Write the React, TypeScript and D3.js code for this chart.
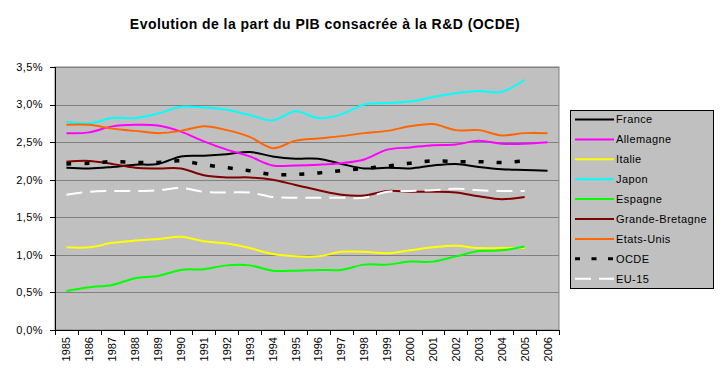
import React from 'react';
import * as d3 from 'd3';

const years = ['1985','1986','1987','1988','1989','1990','1991','1992','1993','1994','1995','1996','1997','1998','1999','2000','2001','2002','2003','2004','2005','2006'];

const france = [2.16,2.15,2.17,2.20,2.21,2.31,2.32,2.34,2.37,2.31,2.28,2.28,2.21,2.15,2.16,2.15,2.19,2.21,2.17,2.14,2.13,2.12];
const allemagne = [2.62,2.63,2.71,2.73,2.72,2.64,2.51,2.40,2.31,2.19,2.19,2.20,2.22,2.27,2.40,2.43,2.46,2.47,2.52,2.48,2.48,2.50];
const italie = [1.10,1.10,1.16,1.19,1.21,1.24,1.18,1.15,1.09,1.01,0.98,0.98,1.04,1.04,1.02,1.06,1.10,1.12,1.09,1.09,1.09,null];
const japon = [2.77,2.75,2.82,2.82,2.88,2.97,2.96,2.93,2.86,2.79,2.91,2.82,2.87,3.00,3.02,3.04,3.10,3.15,3.18,3.17,3.33,null];
const espagne = [0.52,0.57,0.60,0.69,0.72,0.80,0.81,0.86,0.86,0.79,0.79,0.80,0.80,0.87,0.87,0.91,0.91,0.98,1.05,1.06,1.11,null];
const grandeBretagne = [2.24,2.25,2.21,2.16,2.15,2.15,2.06,2.03,2.03,2.00,1.93,1.86,1.80,1.79,1.85,1.84,1.84,1.83,1.78,1.74,1.77,null];
const etatsUnis = [2.73,2.73,2.68,2.65,2.62,2.65,2.71,2.66,2.57,2.42,2.52,2.55,2.58,2.62,2.65,2.71,2.74,2.66,2.66,2.59,2.62,2.62];
const ocde = [2.21,2.22,2.24,2.23,2.23,2.25,2.20,2.16,2.12,2.07,2.07,2.09,2.12,2.15,2.18,2.22,2.25,2.24,2.24,2.23,2.25,null];
const eu15 = [1.80,1.84,1.85,1.85,1.86,1.89,1.84,1.83,1.83,1.77,1.76,1.76,1.76,1.76,1.84,1.85,1.86,1.88,1.86,1.85,1.85,null];

const yTicks = [0, 0.5, 1.0, 1.5, 2.0, 2.5, 3.0, 3.5];

const series = [
  { name: 'France', values: france, color: '#000000', width: 2, dash: '' },
  { name: 'Allemagne', values: allemagne, color: '#FF00FF', width: 2, dash: '' },
  { name: 'Italie', values: italie, color: '#FFFF00', width: 2, dash: '' },
  { name: 'Japon', values: japon, color: '#00FFFF', width: 2, dash: '' },
  { name: 'Espagne', values: espagne, color: '#00FF00', width: 2, dash: '' },
  { name: 'Grande-Bretagne', values: grandeBretagne, color: '#800000', width: 2, dash: '' },
  { name: 'Etats-Unis', values: etatsUnis, color: '#FF6600', width: 2, dash: '' },
  { name: 'OCDE', values: ocde, color: '#000000', width: 3.5, dash: '5,13' },
  { name: 'EU-15', values: eu15, color: '#FFFFFF', width: 2, dash: '16,8' },
];

const W = 721, H = 382;
const L = 55, R = 559, T = 67, B = 330;
const FONT = '"Liberation Sans", Arial, sans-serif';

export default function App() {
  const x = d3.scaleBand<string>().domain(years).range([L, R]);
  const bw = x.bandwidth();
  const cx = (yr: string) => (x(yr) as number) + bw / 2;
  const y = d3.scaleLinear().domain([0, 3.5]).range([B, T]);
  const fmt = (v: number) => v.toFixed(1).replace('.', ',') + '%';

  const line = d3.line<[string, number | null]>()
    .defined(d => d[1] != null)
    .x(d => cx(d[0]))
    .y(d => y(d[1] as number))
    .curve(d3.curveCatmullRom.alpha(0));

  const boundaries = d3.range(years.length + 1).map(i => L + i * bw);

  const legX = 570, legY = 110, legW = 143, legH = 178;
  const rowY = (i: number) => 119.5 + i * 19.9;

  return (
    <svg width={W} height={H} style={{ position: 'absolute', left: 0, top: 0, background: '#fff' }} fontFamily={FONT}>
      <rect x={0} y={0} width={W} height={H} fill="#ffffff" />
      <text x={325} y={29} textAnchor="middle" fontSize={14} fontWeight="bold" letterSpacing={0.45}>
        Evolution de la part du PIB consacrée à la R&amp;D (OCDE)
      </text>
      <rect x={L} y={T} width={R - L} height={B - T} fill="#C0C0C0" stroke="#808080" strokeWidth={1} />
      {yTicks.map(t => (
        <line key={'g' + t} x1={L} x2={R} y1={Math.round(y(t)) + 0.5} y2={Math.round(y(t)) + 0.5} stroke="#808080" strokeWidth={1} />
      ))}
      <line x1={L + 0.5} x2={L + 0.5} y1={T} y2={B + 0.5} stroke="#000" strokeWidth={1} />
      <line x1={L} x2={R} y1={B + 0.5} y2={B + 0.5} stroke="#000" strokeWidth={1} />
      {yTicks.map(t => (
        <g key={'yt' + t}>
          <line x1={L - 5} x2={L} y1={Math.round(y(t)) + 0.5} y2={Math.round(y(t)) + 0.5} stroke="#000" />
          <text x={43} y={y(t)} dy="0.35em" textAnchor="end" fontSize={11} letterSpacing={0.4}>{fmt(t)}</text>
        </g>
      ))}
      {boundaries.map((bx, i) => (
        <line key={'xt' + i} x1={Math.round(bx) + 0.5} x2={Math.round(bx) + 0.5} y1={B} y2={B + 5} stroke="#000" />
      ))}
      {years.map(yr => (
        <text key={'xl' + yr} transform={`translate(${cx(yr) + 4},337) rotate(-90)`} textAnchor="end" fontSize={11}>{yr}</text>
      ))}
      {series.map(s => (
        <path key={s.name} d={line(years.map((yr, i) => [yr, s.values[i]] as [string, number | null])) || ''}
          fill="none" stroke={s.color} strokeWidth={s.width} strokeDasharray={s.dash || undefined} />
      ))}
      <rect x={legX + 0.5} y={legY + 0.5} width={legW} height={legH} fill="#C0C0C0" stroke="#000" strokeWidth={1} />
      {series.map((s, i) => (
        <g key={'leg' + s.name}>
          <line x1={575} x2={614} y1={rowY(i)} y2={rowY(i)} stroke={s.color} strokeWidth={s.width === 3.5 ? 3 : 2}
            strokeDasharray={s.name === 'OCDE' ? '5,11.5' : s.name === 'EU-15' ? '16,8' : undefined} />
          <text x={616} y={rowY(i)} dy="0.35em" fontSize={11} letterSpacing={0.4}>{s.name}</text>
        </g>
      ))}
    </svg>
  );
}
